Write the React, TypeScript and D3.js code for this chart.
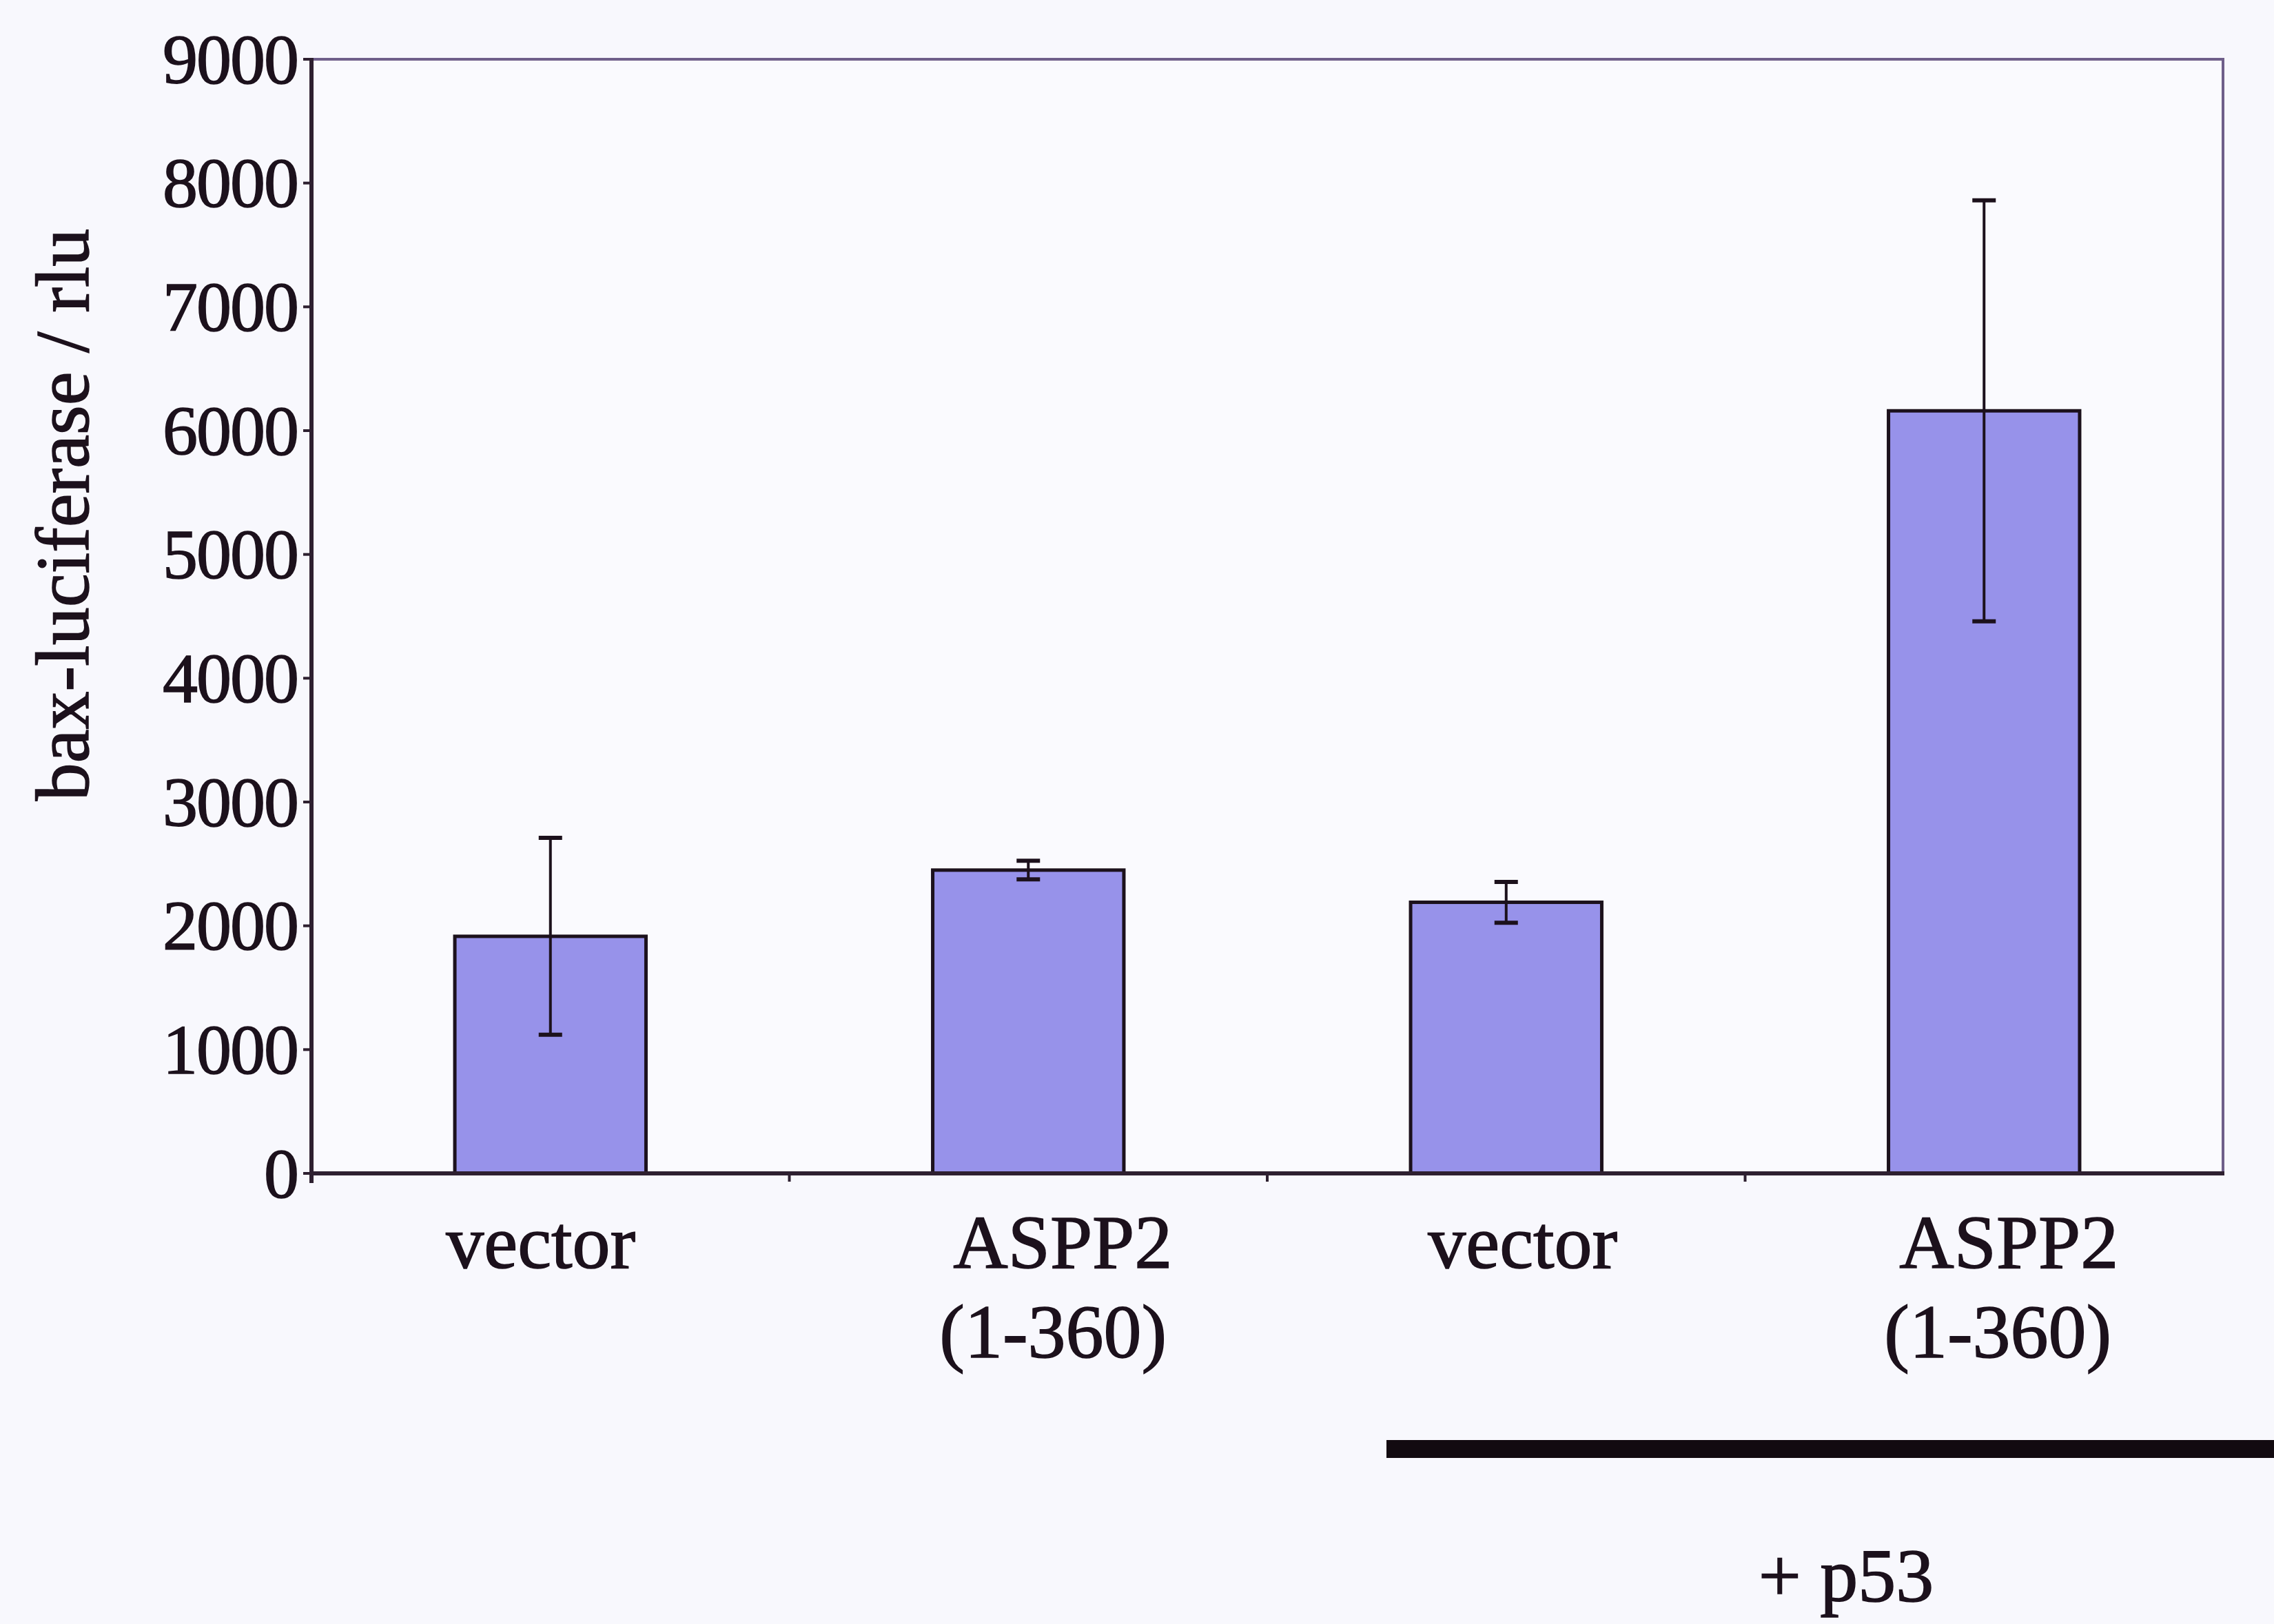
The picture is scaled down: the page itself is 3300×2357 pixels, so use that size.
import React from "react";
import * as d3 from "d3";

// ---- data ----
const categories: string[] = ["vector", "ASPP2 (1-360)", "vector ", "ASPP2 (1-360) "];
const labelLines: string[][] = [["vector"], ["ASPP2", "(1-360)"], ["vector"], ["ASPP2", "(1-360)"]];
const values: number[] = [1915, 2450, 2190, 6160];
const errors: number[] = [795, 75, 165, 1700];
const yTicks: number[] = [0, 1000, 2000, 3000, 4000, 5000, 6000, 7000, 8000, 9000];
const yTitle = "bax-luciferase / rlu";
const groupLabel = "+ p53";

// small horizontal nudges of the category labels (as in the scanned figure)
const labelNudge: number[][] = [[-14], [50, 36], [24], [36, 20]];

const W = 3300;
const H = 2357;
const left = 452;
const right = 3226;
const top = 86;
const bottom = 1703;

const FONT = "'Liberation Serif', 'Times New Roman', serif";
const INK = "#1c111c";

export default function App() {
  const x = d3
    .scaleBand<string>()
    .domain(categories)
    .range([left, right])
    .paddingInner(0.6)
    .paddingOuter(0.3);
  const y = d3.scaleLinear().domain([0, 9000]).range([bottom, top]);
  const step = x.step();
  const bw = x.bandwidth();
  const boundary = (k: number) => left + k * step;

  return (
    <svg
      width={W}
      height={H}
      viewBox={`0 0 ${W} ${H}`}
      style={{ position: "absolute", left: 0, top: 0, background: "#f8f8fd" }}
    >
      <rect x={0} y={0} width={W} height={H} fill="#f8f8fd" />

      {/* plot frame (top/right) */}
      <rect
        x={left}
        y={top}
        width={right - left}
        height={bottom - top}
        fill="#fafafe"
        stroke="#6f5f8a"
        strokeWidth={4}
      />

      {/* bars */}
      {categories.map((c, i) => (
        <rect
          key={"b" + i}
          x={x(c)!}
          y={y(values[i])}
          width={bw}
          height={y(0) - y(values[i])}
          fill="#9792ea"
          stroke={INK}
          strokeWidth={5}
        />
      ))}

      {/* error bars */}
      {categories.map((c, i) => {
        const cx = x(c)! + bw / 2;
        const hi = y(values[i] + errors[i]);
        const lo = y(values[i] - errors[i]);
        return (
          <g key={"e" + i} stroke={INK} strokeWidth={4}>
            <line x1={cx} x2={cx} y1={hi} y2={lo} />
            <line x1={cx - 17} x2={cx + 17} y1={hi} y2={hi} strokeWidth={6} />
            <line x1={cx - 17} x2={cx + 17} y1={lo} y2={lo} strokeWidth={6} />
          </g>
        );
      })}

      {/* axes */}
      <line x1={left} x2={left} y1={top - 2} y2={bottom + 14} stroke="#2e2030" strokeWidth={6} />
      <line x1={left - 2} x2={right + 2} y1={bottom} y2={bottom} stroke="#2e2030" strokeWidth={6} />

      {/* y ticks & labels */}
      {yTicks.map((t) => (
        <g key={"t" + t}>
          <line x1={left - 12} x2={left} y1={y(t)} y2={y(t)} stroke="#2e2030" strokeWidth={4} />
          <text
            x={432}
            y={y(t)}
            dy="0.34em"
            textAnchor="end"
            fontFamily={FONT}
            fontSize={102}
            letterSpacing={-2}
            fill={INK}
            stroke={INK}
            strokeWidth={1.5}
          >
            {d3.format("d")(t)}
          </text>
        </g>
      ))}

      {/* category boundary ticks */}
      {d3.range(1, categories.length).map((k) => (
        <line
          key={"ct" + k}
          x1={boundary(k)}
          x2={boundary(k)}
          y1={bottom}
          y2={bottom + 12}
          stroke="#2e2030"
          strokeWidth={4}
        />
      ))}

      {/* category labels */}
      {categories.map((c, i) =>
        labelLines[i].map((ln, j) => (
          <text
            key={"l" + i + "-" + j}
            x={x(c)! + bw / 2 + labelNudge[i][j]}
            y={1840 + j * 130}
            textAnchor="middle"
            fontFamily={FONT}
            fontSize={110}
            fill={INK}
            stroke={INK}
            strokeWidth={1.5}
          >
            {ln}
          </text>
        ))
      )}

      {/* y title */}
      <text
        transform={`translate(128, 747) rotate(-90)`}
        textAnchor="middle"
        fontFamily={FONT}
        fontSize={110}
        fill={INK}
        stroke={INK}
        strokeWidth={1.5}
      >
        {yTitle}
      </text>

      {/* + p53 group marker */}
      <rect x={2012} y={2090} width={W - 2012} height={26} fill="#120a10" />
      <text
        x={2679}
        y={2324}
        textAnchor="middle"
        fontFamily={FONT}
        fontSize={110}
        fill={INK}
        stroke={INK}
        strokeWidth={1.5}
      >
        {groupLabel}
      </text>
    </svg>
  );
}
